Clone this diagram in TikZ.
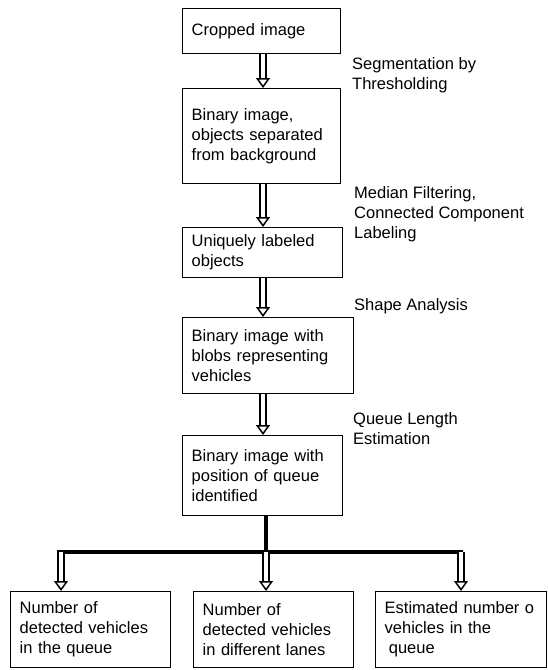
\documentclass[tikz,border=0pt]{standalone}
\usepackage{fontspec}
\setmainfont{Liberation Sans}
\usetikzlibrary{arrows.meta}
\tikzset{>={Triangle[open,width=14pt,length=10pt]}}
\tikzstyle{stage}=[draw,line width=1.4pt,align=left,inner xsep=9pt,inner ysep=0pt,anchor=north west,font=\fontsize{16.5}{20}\selectfont]
\tikzstyle{oplabel}=[align=left,anchor=north west,inner sep=0pt,font=\fontsize{16.5}{20}\selectfont]
\tikzstyle{flow}=[double,double distance=4.5pt,line width=1.5pt,->]
\tikzstyle{trunk}=[line width=4.5pt]

\begin{document}
\begin{tikzpicture}[x=1pt,y=-1pt]
  \useasboundingbox (0,0) rectangle (548,670);
  % processing chain
  \node[stage,minimum height=45,text width=140] (crop) at (182,8) {Cropped image};
  \node[stage,minimum height=95,text width=140] (binary) at (182,88)
    {Binary image,\\objects separated\\from background};
  \node[stage,minimum height=50,text width=142] (labeled) at (182,227)
    {Uniquely labeled\\objects};
  \node[stage,minimum height=76,text width=153] (blobs) at (182,317)
    {Binary image with\\blobs representing\\vehicles};
  \node[stage,minimum height=80,text width=142] (queuepos) at (182,435)
    {Binary image with\\position of queue\\identified};
  % outputs
  \node[stage,minimum height=76,text width=142] (count) at (10,591)
    {Number of\\detected vehicles\\in the queue};
  \node[stage,minimum height=76,text width=142] (lanes) at (193,591)
    {Number of\\detected vehicles\\in different lanes};
  \node[stage,minimum height=76,text width=153] (estimate) at (375,591)
    {Estimated number o\\vehicles in the\\\hspace{0.25em}queue};
  % operations
  \node[oplabel] (seg) at (352,57) {Segmentation by\\Thresholding};
  \node[oplabel] (median) at (354,186) {Median Filtering,\\Connected Component\\Labeling};
  \node[oplabel] (shape) at (354,298) {Shape Analysis};
  \node[oplabel] (qlen) at (353,412) {Queue Length\\Estimation};
  % arrows
  \coordinate (spine) at (263,0);
  \draw[flow] (crop.south -| spine) -- (binary.north -| spine);
  \draw[flow] (binary.south -| spine) -- (labeled.north -| spine);
  \draw[flow] (labeled.south -| spine) -- (blobs.north -| spine);
  \draw[flow] (blobs.south -| spine) -- (queuepos.north -| spine);
  \coordinate (fork) at (266,552);
  \coordinate (forkL) at (61,552);
  \coordinate (forkR) at (461,552);
  \draw[trunk] (queuepos.south -| fork) -- (fork);
  \draw[trunk] ([xshift=-4pt]forkL) -- ([xshift=2pt]forkR);
  \draw[flow] (forkL) -- (count.north -| forkL);
  \draw[flow] (fork) -- (lanes.north -| fork);
  \draw[flow] (forkR) -- (estimate.north -| forkR);
\end{tikzpicture}
\end{document}
